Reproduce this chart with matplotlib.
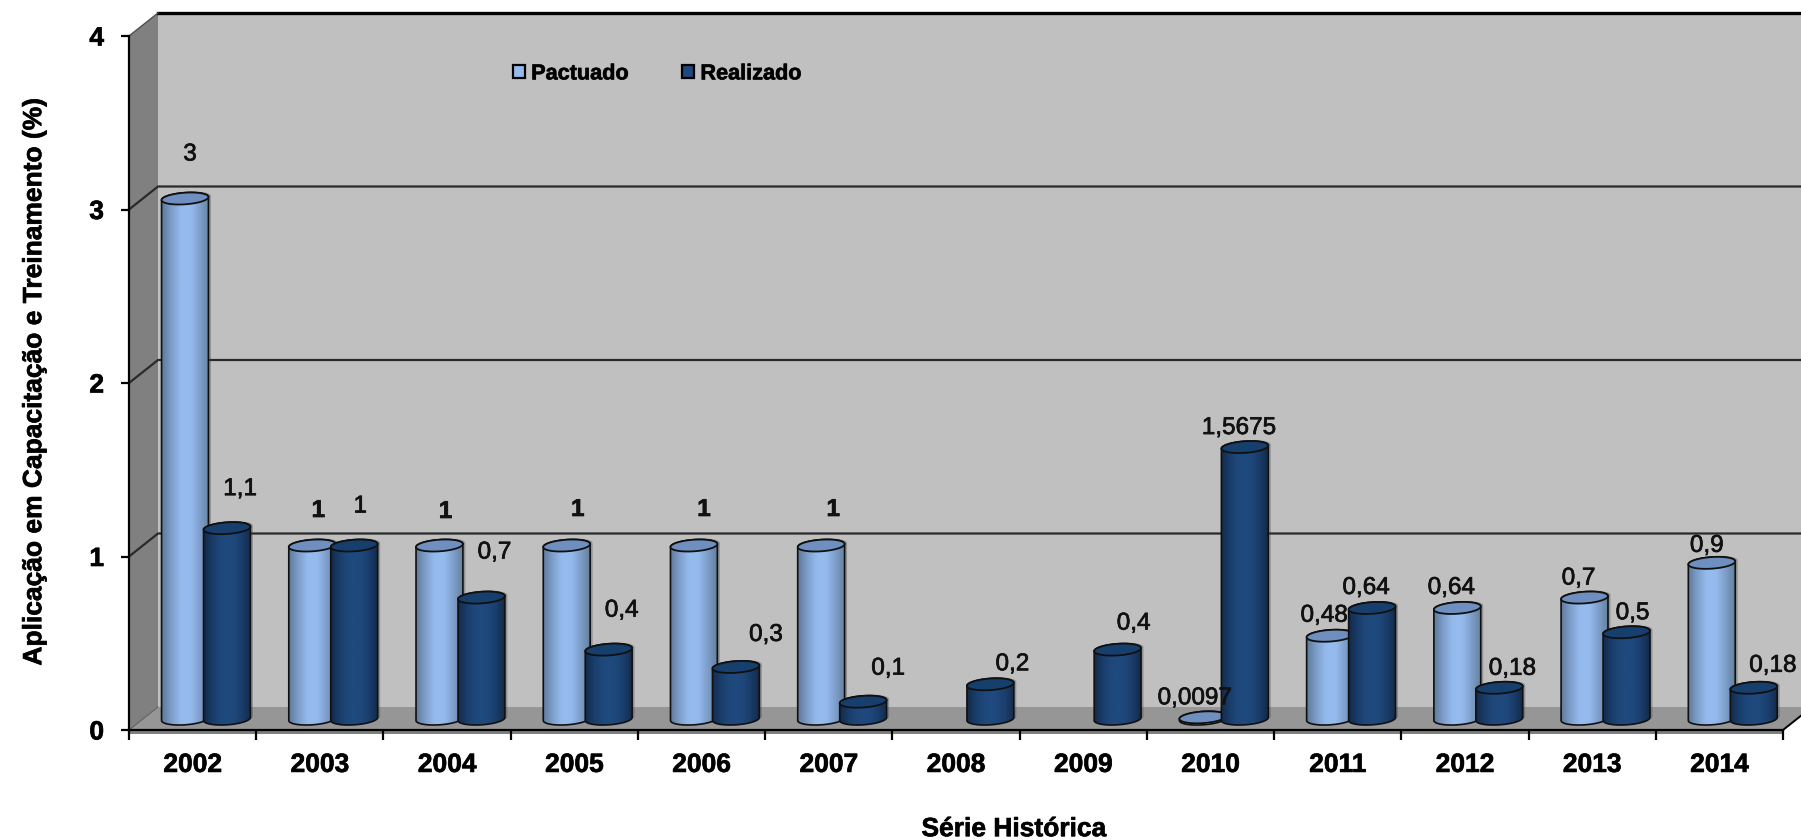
#!/usr/bin/env python
# -*- coding: utf-8 -*-
import numpy as np
import matplotlib
matplotlib.use('agg')
import matplotlib.pyplot as plt
import matplotlib.patheffects as pe
from matplotlib.colors import LinearSegmentedColormap
from matplotlib.patches import Patch, Polygon

plt.rcParams['font.family'] = ['Liberation Sans', 'DejaVu Sans']

## Data
years = ['2002', '2003', '2004', '2005', '2006', '2007', '2008', '2009', '2010', '2011', '2012', '2013', '2014']
pactuado = [3, 1, 1, 1, 1, 1, np.nan, np.nan, 0.0097, 0.48, 0.64, 0.7, 0.9]
realizado = [1.1, 1, 0.7, 0.4, 0.3, 0.1, 0.2, 0.4, 1.5675, 0.64, 0.18, 0.5, 0.18]
pactuado_txt = ['3', '1', '1', '1', '1', '1', '', '', '0,0097', '0,48', '0,64', '0,7', '0,9']
realizado_txt = ['1,1', '1', '0,7', '0,4', '0,3', '0,1', '0,2', '0,4', '1,5675', '0,64', '0,18', '0,5', '0,18']

## Label offsets from the top of each cylinder, in pixels
pactuado_off = [(5, 44), (6, 35), (6, 34), (11, 36), (10, 36), (12, 36), (0, 0), (0, 0),
                (-8, 19), (-6, 20), (-6, 20), (-6, 19), (-5, 17)]
realizado_off = [(13, 39), (6, 39), (13, 45), (13, 39), (30, 32), (25, 33), (22, 20), (16, 26),
                 (-6, 19), (-6, 20), (13, 19), (6, 19), (19, 22)]
pactuado_bold = [False, True, True, True, True, True, False, False, False, False, False, False, False]

## Layout (pixels of the 1801x840 figure)
W, H = 1801, 840
LEFT, RIGHT, TOP, BOTTOM = 129, 1783, 36, 730
PX_X = (RIGHT - LEFT) / 13.0
PX_Y = (BOTTOM - TOP) / 4.0
DEPTH_X = 29 / PX_X
DEPTH_Y = 23 / PX_Y
BASE = 11 / PX_Y
BAR_A, BAR_B, TILT = 23.5, 5.8, np.radians(4)

LIGHT = LinearSegmentedColormap.from_list('light', ['#5F7A9C', '#7F9FCC', '#95BBEE', '#95BBEE', '#7F9FCC', '#64829F'])
DARK = LinearSegmentedColormap.from_list('dark', ['#142A4A', '#1A3F6E', '#1F497D', '#1F497D', '#1A3F6E', '#142A4A'])
HEAVY = [pe.withStroke(linewidth=0.5, foreground='#111111')]


def ellipse_points(xc, yc, t):
    # tilted ellipse around a data point, worked out in pixels
    ex = BAR_A * np.cos(t) * np.cos(TILT) - BAR_B * np.sin(t) * np.sin(TILT)
    ey = BAR_A * np.cos(t) * np.sin(TILT) + BAR_B * np.sin(t) * np.cos(TILT)
    return np.column_stack([xc + ex / PX_X, yc + ey / PX_Y])


def draw_cylinder(ax, xc, value, cmap, top_color, z):
    y_top = BASE + value
    low = ellipse_points(xc, BASE, np.linspace(np.pi, 2 * np.pi, 40))
    top = ellipse_points(xc, y_top, np.linspace(0, np.pi, 40))
    body = np.vstack([low, top])
    shadow = body + [2.5 / PX_X, 1 / PX_Y]
    ax.add_patch(Polygon(shadow, closed=True, fc='#404040', ec='none', alpha=0.35, zorder=z))
    outline = Polygon(body, closed=True, fc='none', ec='#101010', lw=1.2, zorder=z + 0.2)
    ax.add_patch(outline)
    half = BAR_A / PX_X
    grad = np.linspace(0, 1, 64).reshape(1, -1)
    im = ax.imshow(grad, cmap=cmap, extent=[xc - half, xc + half, 0, y_top + 0.1], aspect='auto',
                   interpolation='bilinear', zorder=z + 0.1)
    im.set_clip_path(outline)
    cap = ellipse_points(xc, y_top, np.linspace(0, 2 * np.pi, 80))
    ax.add_patch(Polygon(cap, closed=True, fc=top_color, ec='#101010', lw=1.3, zorder=z + 0.3))


fig = plt.figure(figsize=(W / 100.0, H / 100.0), dpi=100)
ax = fig.add_axes([LEFT / W, 1 - BOTTOM / H, (RIGHT - LEFT) / W, (BOTTOM - TOP) / H])
ax.patch.set_visible(False)

## Walls and floor
back = [(DEPTH_X, DEPTH_Y), (13 + DEPTH_X, DEPTH_Y), (13 + DEPTH_X, 4 + DEPTH_Y), (DEPTH_X, 4 + DEPTH_Y)]
side = [(0, 0), (DEPTH_X, DEPTH_Y), (DEPTH_X, 4 + DEPTH_Y), (0, 4)]
floor = [(0, 0), (13, 0), (13 + DEPTH_X, DEPTH_Y), (DEPTH_X, DEPTH_Y)]
strip = [(0, 0), (13, 0), (13, -4 / PX_Y), (0, -4 / PX_Y)]
ax.add_patch(Polygon(back, fc='#C0C0C0', ec='none', clip_on=False, zorder=0))
ax.add_patch(Polygon(side, fc='#808080', ec='none', clip_on=False, zorder=0.1))
ax.add_patch(Polygon(floor, fc='#969696', ec='none', clip_on=False, zorder=0.1))
ax.add_patch(Polygon(strip, fc='#808080', ec='none', clip_on=False, zorder=0.1))

## Gridlines, running up the side wall and along the back wall
for level in [1, 2, 3]:
    ax.plot([0, DEPTH_X, 13 + DEPTH_X], [level, level + DEPTH_Y, level + DEPTH_Y], color='#2A2A2A', lw=1.6,
            clip_on=False, zorder=0.5, solid_joinstyle='miter')
ax.plot([DEPTH_X, 13 + DEPTH_X], [4 + DEPTH_Y, 4 + DEPTH_Y], color='black', lw=2.4, clip_on=False, zorder=0.5)
ax.plot([0, DEPTH_X], [4, 4 + DEPTH_Y], color='#505050', lw=1.0, clip_on=False, zorder=0.5)
ax.plot([0, DEPTH_X], [0, DEPTH_Y], color='#606060', lw=0.8, clip_on=False, zorder=0.5)
ax.plot([13, 13 + DEPTH_X], [0, DEPTH_Y], color='black', lw=1.4, clip_on=False, zorder=0.5)

## Cylinders
x_light = np.arange(13) + 56 / PX_X
x_dark = np.arange(13) + 98 / PX_X
for i in range(13):
    if not np.isnan(pactuado[i]):
        draw_cylinder(ax, x_light[i], pactuado[i], LIGHT, '#6E8FBF', 2 + i * 0.01)
for i in range(13):
    draw_cylinder(ax, x_dark[i], realizado[i], DARK, '#173F6E', 3 + i * 0.01)

## Data labels
for i in range(13):
    if pactuado_txt[i]:
        ax.annotate(pactuado_txt[i], xy=(x_light[i], BASE + pactuado[i]), xytext=pactuado_off[i],
                    textcoords='offset pixels', ha='center', va='center', fontsize=17.5, color='#111111',
                    fontweight='bold' if pactuado_bold[i] else 'normal', zorder=5, path_effects=HEAVY)
    ax.annotate(realizado_txt[i], xy=(x_dark[i], BASE + realizado[i]), xytext=realizado_off[i],
                textcoords='offset pixels', ha='center', va='center', fontsize=17.5, color='#111111', zorder=5,
                path_effects=HEAVY)

## Axes
ax.set_xlim(0, 13)
ax.set_ylim(0, 4)
for s in ['top', 'right']:
    ax.spines[s].set_visible(False)
ax.spines['left'].set_linewidth(1.6)
ax.spines['bottom'].set_linewidth(1.6)
ax.spines['left'].set_zorder(1)
ax.spines['bottom'].set_zorder(1)
ax.set_yticks([0, 1, 2, 3, 4])
ax.set_yticklabels(['0', '1', '2', '3', '4'], fontsize=19, fontweight='bold')
ax.tick_params(axis='y', length=6, width=1.6, pad=12)
ax.set_xticks(range(14))
ax.set_xticklabels([])
ax.tick_params(axis='x', which='major', length=7, width=1.6)
ax.set_xticks(np.arange(13) + 0.5, minor=True)
ax.set_xticklabels(years, minor=True, fontsize=19, fontweight='bold')
ax.tick_params(axis='x', which='minor', length=0, pad=16.5)
ax.set_xlabel('Série Histórica', fontsize=19, fontweight='bold', x=0.535, labelpad=29)
ax.set_ylabel('Aplicação em Capacitação e Treinamento (%)', fontsize=19, fontweight='bold', labelpad=31, y=0.5014)
for t in ax.get_yticklabels() + ax.get_xticklabels(minor=True) + [ax.xaxis.label, ax.yaxis.label]:
    t.set_path_effects(HEAVY)

## Legend
handles = [Patch(fc='#95BBEE', ec='black', lw=1.6, label='Pactuado'), Patch(fc='#1F497D', ec='black', lw=1.6, label='Realizado')]
leg = ax.legend(handles=handles, loc='upper left', bbox_to_anchor=(0.232, 0.9605), ncol=2, frameon=False,
                handlelength=0.55, handleheight=0.55, handletextpad=0.3, columnspacing=2.45,
                borderpad=0, borderaxespad=0, prop={'weight': 'bold', 'size': 15.6})
leg.set_zorder(6)
for t in leg.get_texts():
    t.set_path_effects(HEAVY)

plt.savefig('out.png', dpi=100)
